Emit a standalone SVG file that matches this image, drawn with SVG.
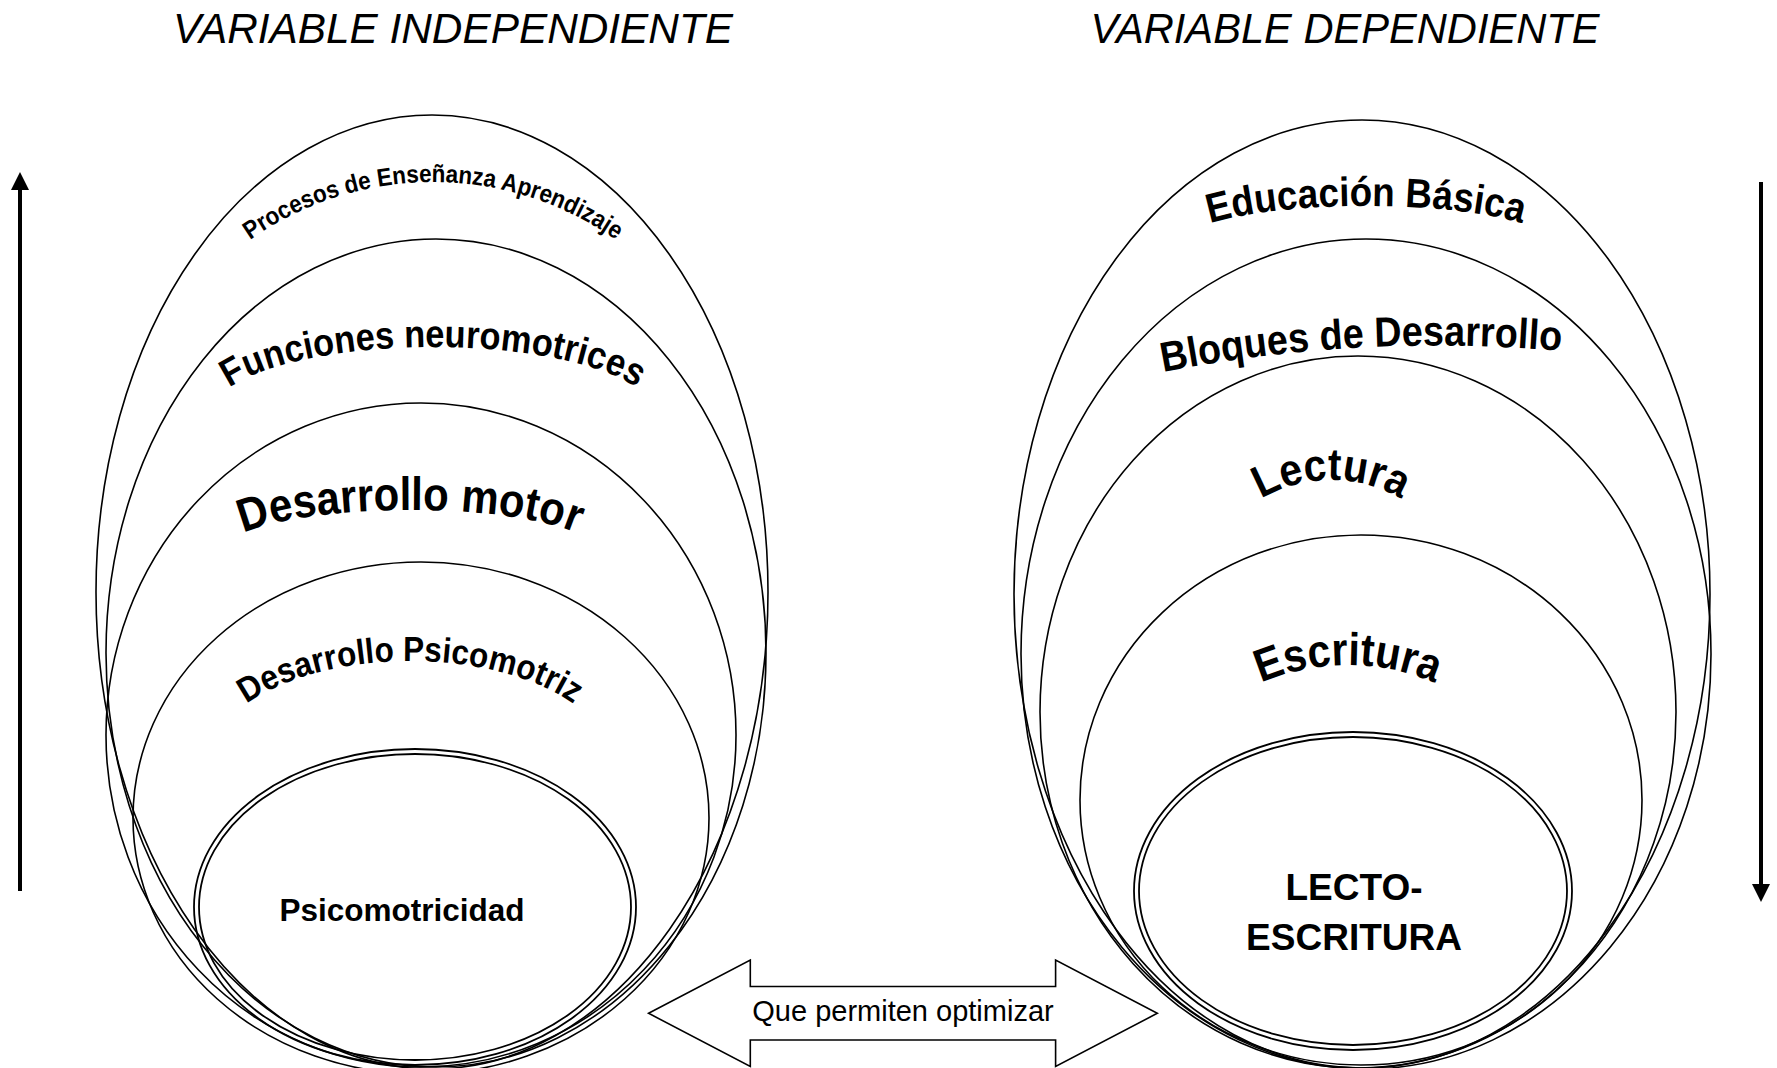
<svg xmlns="http://www.w3.org/2000/svg" width="1777" height="1068" viewBox="0 0 1777 1068">
<style>
.bg{fill:#ffffff}
.ov{fill:none;stroke:#000;stroke-width:1.6}
.dbl{fill:none;stroke:#000;stroke-width:1.8}
.arch{font-family:"Liberation Sans",Arial,sans-serif;font-weight:bold;fill:#000}
.title{font-family:"Liberation Sans",Arial,sans-serif;font-style:italic;font-size:42px;fill:#000}
.core{font-family:"Liberation Sans",Arial,sans-serif;font-weight:bold;fill:#000}
.conn{stroke:#000;stroke-width:4;fill:none}
.blk{fill:#fff;stroke:#000;stroke-width:1.6}
.lbl{font-family:"Liberation Sans",Arial,sans-serif;font-size:29px;fill:#000}
</style>
<defs>
<marker id="ah" viewBox="0 0 18 18" refX="0" refY="9" markerWidth="18" markerHeight="18" markerUnits="userSpaceOnUse" orient="auto">
<path d="M0,0 L18,9 L0,18 z" fill="#000"/>
</marker>
<path id="p1" d="M 115 500 A 318 318 0 0 1 751 500"/>
<path id="p2" d="M 212 414 A 221 67 0 0 1 654 414"/>
<path id="p3" d="M 224 552 A 186 42 0 0 1 596 552"/>
<path id="p4" d="M 210 762 A 200 101 0 0 1 610 762"/>
<path id="p5" d="M 1179 244.5 A 187 38.5 0 0 1 1553 244.5"/>
<path id="p6" d="M 1163 372 A 1425 1425 0 0 1 1561 351"/>
<path id="p7" d="M 1192.6 618.4 A 138.4 138.4 0 0 1 1469.4 618.4"/>
<path id="p8" d="M 1129 884 A 219 219 0 0 1 1567 884"/>
</defs>
<rect class="bg" x="0" y="0" width="1777" height="1068"/>

<g id="title-independiente">
<text class="title" x="453" y="43" text-anchor="middle" textLength="560" lengthAdjust="spacingAndGlyphs">VARIABLE INDEPENDIENTE</text>
</g>
<g id="title-dependiente">
<text class="title" x="1345" y="43" text-anchor="middle" textLength="509" lengthAdjust="spacingAndGlyphs">VARIABLE DEPENDIENTE</text>
</g>

<g id="node-procesos">
<ellipse class="ov" cx="432" cy="592" rx="336" ry="477"/>
<text class="arch" font-size="25"><textPath href="#p1" startOffset="50%" text-anchor="middle" textLength="390" lengthAdjust="spacingAndGlyphs">Procesos de Enseñanza Aprendizaje</textPath></text>
</g>
<g id="node-funciones">
<ellipse class="ov" cx="436" cy="653" rx="330" ry="414"/>
<text class="arch" font-size="38.5"><textPath href="#p2" startOffset="50%" text-anchor="middle" textLength="420" lengthAdjust="spacingAndGlyphs">Funciones neuromotrices</textPath></text>
</g>
<g id="node-desarrollo-motor">
<ellipse class="ov" cx="421" cy="735" rx="315" ry="332"/>
<text class="arch" font-size="47"><textPath href="#p3" startOffset="50%" text-anchor="middle" textLength="338" lengthAdjust="spacingAndGlyphs">Desarrollo motor</textPath></text>
</g>
<g id="node-desarrollo-psicomotriz">
<ellipse class="ov" cx="421" cy="818" rx="288" ry="256"/>
<text class="arch" font-size="35"><textPath href="#p4" startOffset="50%" text-anchor="middle" textLength="343" lengthAdjust="spacingAndGlyphs">Desarrollo Psicomotriz</textPath></text>
</g>
<g id="node-psicomotricidad">
<ellipse class="dbl" cx="415" cy="907" rx="221" ry="158"/>
<ellipse class="dbl" cx="415" cy="907" rx="216" ry="153"/>
<text class="core" x="402" y="921" font-size="31.5" text-anchor="middle">Psicomotricidad</text>
</g>

<g id="node-educacion">
<ellipse class="ov" cx="1362" cy="594" rx="348" ry="474"/>
<text class="arch" font-size="41"><textPath href="#p5" startOffset="50%" text-anchor="middle" textLength="315" lengthAdjust="spacingAndGlyphs">Educación Básica</textPath></text>
</g>
<g id="node-bloques">
<ellipse class="ov" cx="1366" cy="654" rx="345" ry="415"/>
<text class="arch" font-size="42"><textPath href="#p6" startOffset="50%" text-anchor="middle" textLength="400" lengthAdjust="spacingAndGlyphs">Bloques de Desarrollo</textPath></text>
</g>
<g id="node-lectura">
<ellipse class="ov" cx="1358" cy="712" rx="318" ry="356"/>
<text class="arch" font-size="45"><textPath href="#p7" startOffset="50%" text-anchor="middle" textLength="147" lengthAdjust="spacingAndGlyphs">Lectura</textPath></text>
</g>
<g id="node-escritura">
<ellipse class="ov" cx="1361" cy="800" rx="281" ry="265"/>
<text class="arch" font-size="46"><textPath href="#p8" startOffset="50%" text-anchor="middle" textLength="179" lengthAdjust="spacingAndGlyphs">Escritura</textPath></text>
</g>
<g id="node-lectoescritura">
<ellipse class="dbl" cx="1353" cy="891" rx="219" ry="159"/>
<ellipse class="dbl" cx="1353" cy="891" rx="214" ry="154"/>
<text class="core" x="1354" y="900" font-size="37" text-anchor="middle">LECTO-</text>
<text class="core" x="1354" y="950" font-size="37" text-anchor="middle">ESCRITURA</text>
</g>

<g id="node-optimizar">
<polygon class="blk" points="648.6,1013.3 750.3,960 750.3,986.5 1055.6,986.5 1055.6,960 1157.3,1013.3 1055.6,1066.5 1055.6,1040 750.3,1040 750.3,1066.5"/>
<text class="lbl" x="903" y="1021" text-anchor="middle">Que permiten optimizar</text>
</g>

<g id="connectors">
<line class="conn" x1="20" y1="891" x2="20" y2="190" marker-end="url(#ah)"/>
<line class="conn" x1="1761" y1="182" x2="1761" y2="884" marker-end="url(#ah)"/>
</g>
</svg>
